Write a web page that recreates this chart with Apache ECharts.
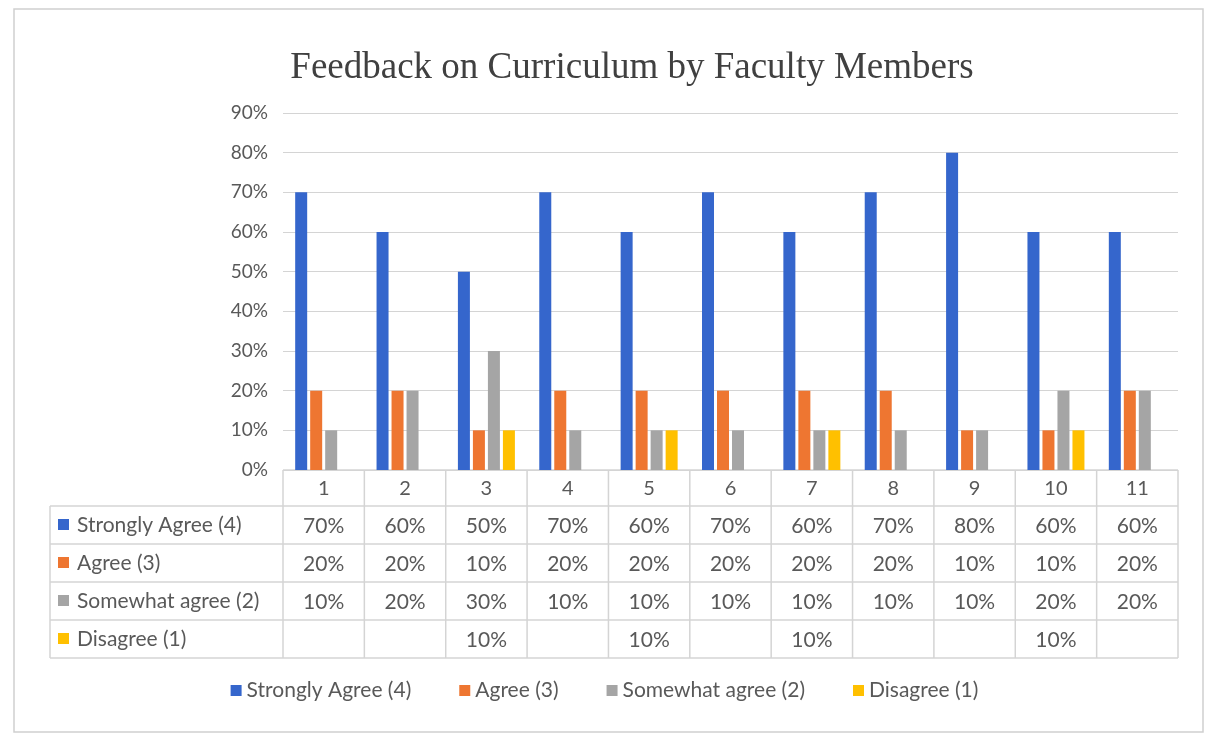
<!DOCTYPE html>
<html>
<head>
<meta charset="utf-8">
<script src="https://cdn.jsdelivr.net/npm/echarts@6/dist/echarts.min.js"></script>
<style>
html,body{margin:0;padding:0;background:#ffffff;}
#chart{width:1209px;height:740px;}
</style>
</head>
<body>
<div id="chart"></div>
<script>
const categories = ['1','2','3','4','5','6','7','8','9','10','11'];
const seriesNames = ['Strongly Agree (4)','Agree (3)','Somewhat agree (2)','Disagree (1)'];
const stronglyAgree = [70,60,50,70,60,70,60,70,80,60,60];
const agree = [20,20,10,20,20,20,20,20,10,10,20];
const somewhatAgree = [10,20,30,10,10,10,10,10,10,20,20];
const disagree = [null,null,10,null,10,null,10,null,null,10,null];
const yMax = 90;
const yStep = 10;

const allValues = [stronglyAgree, agree, somewhatAgree, disagree];
const colors = ['#3566cc','#ee7631','#a5a5a5','#ffc000'];
const textColor = '#595959';
const lineColor = '#d4d4d4';
const bodyFont = 'Lato, "Open Sans", sans-serif';

const W = 1209, H = 740;
const gridLeft = 283, gridRight = 1178, gridTop = 113, gridBottom = 470;
const headerH = 36, rowH = 38, tableLeft = 50;
const colW = (gridRight - gridLeft) / categories.length;

const graphic = [];
// outer chart border
graphic.push({type:'rect', shape:{x:14,y:9,width:1189,height:723}, style:{fill:'none', stroke:'#d0d0d0', lineWidth:1.5}, z:0});
// title
graphic.push({type:'text', x:632, y:68, style:{text:'Feedback on Curriculum by Faculty Members', font:'37px "Liberation Serif", "Times New Roman", serif', fill:'#404040', align:'center', verticalAlign:'middle'}});

const tableBottom = gridBottom + headerH + rowH * allValues.length;
// horizontal table lines
graphic.push({type:'line', shape:{x1:gridLeft,y1:gridBottom,x2:gridRight,y2:gridBottom}, style:{stroke:lineColor, lineWidth:1.5}});
for (let r = 0; r <= allValues.length; r++) {
  const y = gridBottom + headerH + r * rowH;
  graphic.push({type:'line', shape:{x1:tableLeft,y1:y,x2:gridRight,y2:y}, style:{stroke:lineColor, lineWidth:1.5}});
}
// vertical table lines
graphic.push({type:'line', shape:{x1:tableLeft,y1:gridBottom+headerH,x2:tableLeft,y2:tableBottom}, style:{stroke:lineColor, lineWidth:1.5}});
for (let c = 0; c <= categories.length; c++) {
  const x = gridLeft + c * colW;
  graphic.push({type:'line', shape:{x1:x,y1:gridBottom,x2:x,y2:tableBottom}, style:{stroke:lineColor, lineWidth:1.5}});
}
// header numbers
categories.forEach((cat, c) => {
  graphic.push({type:'text', x:gridLeft + (c+0.5)*colW, y:gridBottom + headerH/2 + 1, style:{text:cat, font:'20px ' + bodyFont, fill:textColor, align:'center', verticalAlign:'middle'}});
});
// rows
allValues.forEach((vals, r) => {
  const yc = gridBottom + headerH + r*rowH + rowH/2;
  graphic.push({type:'rect', shape:{x:tableLeft+8, y:yc-6, width:11, height:11}, style:{fill:colors[r]}});
  graphic.push({type:'text', x:tableLeft+27, y:yc, style:{text:seriesNames[r], font:'21px ' + bodyFont, fill:textColor, align:'left', verticalAlign:'middle'}});
  vals.forEach((v, c) => {
    if (v === null) return;
    graphic.push({type:'text', x:gridLeft + (c+0.5)*colW, y:yc + 1, style:{text:v + '%', font:'21px ' + bodyFont, fill:textColor, align:'center', verticalAlign:'middle'}});
  });
});

const chart = echarts.init(document.getElementById('chart'));
chart.setOption({
  backgroundColor:'#ffffff',
  animation:false,
  color: colors,
  grid:{left:gridLeft, right:W-gridRight, top:gridTop, bottom:H-gridBottom, containLabel:false},
  legend:{
    bottom:34, left:'center',
    data:seriesNames,
    icon:'rect', itemWidth:11, itemHeight:11, itemGap:48,
    textStyle:{fontSize:21, color:textColor, fontFamily:bodyFont}
  },
  xAxis:{
    type:'category', data:categories,
    axisLine:{show:false}, axisTick:{show:false}, axisLabel:{show:false}
  },
  yAxis:{
    type:'value', min:0, max:yMax, interval:yStep,
    axisLine:{show:false}, axisTick:{show:false},
    axisLabel:{formatter:'{value}%', fontSize:19, color:textColor, fontFamily:bodyFont, margin:15},
    splitLine:{lineStyle:{color:lineColor, width:1.2}}
  },
  series: allValues.map((vals, i) => ({
    name: seriesNames[i], type:'bar', data: vals,
    barWidth:12, barGap:'25%',
    itemStyle:{color:colors[i]}
  })),
  graphic: graphic
});
</script>
</body>
</html>
